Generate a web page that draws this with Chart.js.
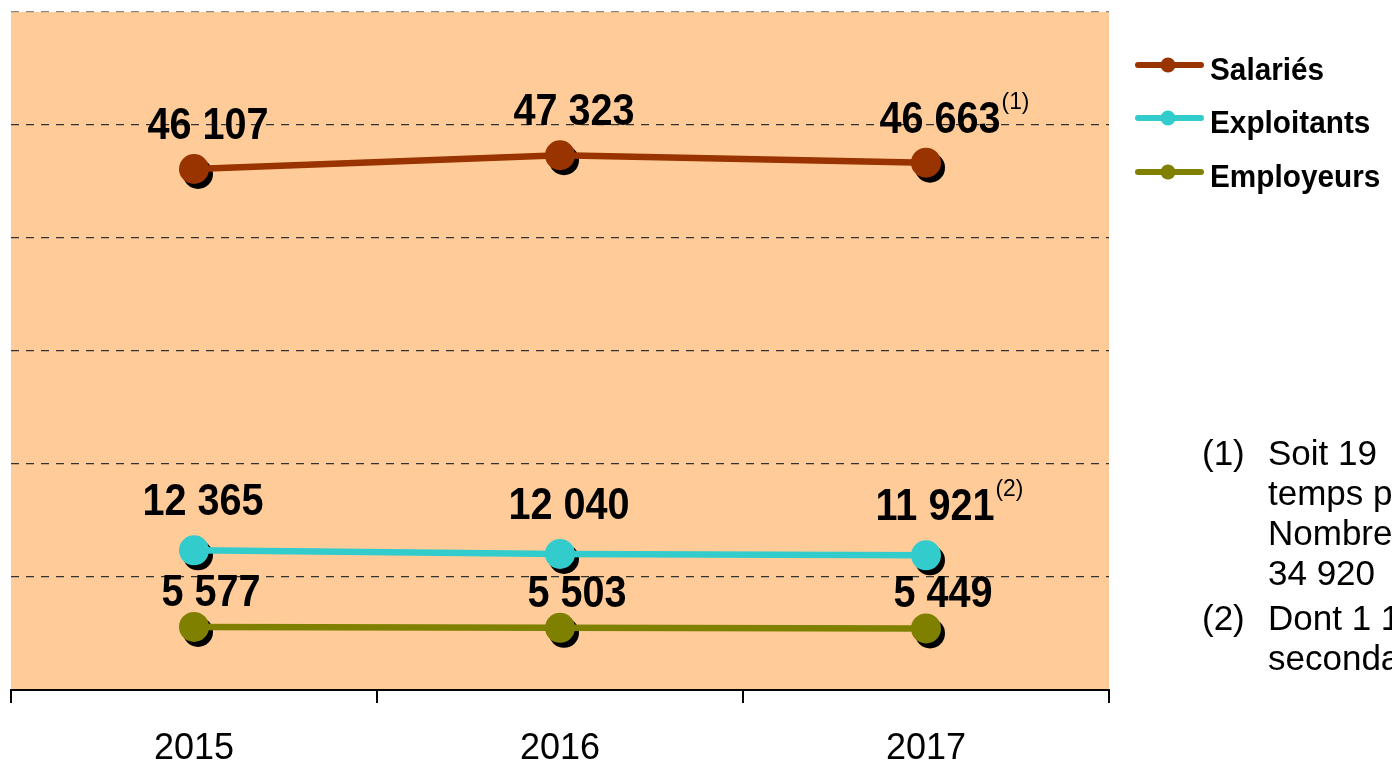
<!DOCTYPE html>
<html><head><meta charset="utf-8">
<script src="https://cdn.jsdelivr.net/npm/chart.js@4.4.1/dist/chart.umd.min.js"></script>
<style>html,body{margin:0;padding:0;background:#fff;overflow:hidden}#wrap{width:1392px;height:766px;position:relative}</style>
</head><body><div id="wrap"><canvas id="c" width="1392" height="766"></canvas></div>
<script>
const years = ['2015', '2016', '2017'];
const salaries = [46107, 47323, 46663];
const exploitants = [12365, 12040, 11921];
const employeurs = [5577, 5503, 5449];
const seriesNames = ['Salariés', 'Exploitants', 'Employeurs'];
const salariesNotes = ['', '', '(1)'];
const exploitantsNotes = ['', '', '(2)'];
const employeursNotes = ['', '', ''];
const yMin = 0, yMax = 60000, yStep = 10000;
const footnoteLines = [
  ['(1)', 'Soit 19  équivalents'],
  ['', 'temps plein.'],
  ['', 'Nombre'],
  ['', '34 920'],
  ['(2)', 'Dont 1 1'],
  ['', 'secondaire.']
];

const colors = ['#993300', '#33CCCC', '#808000'];
const labelOffsets = [{dx: 14, dy: -30}, {dx: 9, dy: -35}, {dx: 17, dy: -21}];
const FONT = '"Liberation Sans", Arial, sans-serif';

function fmt(v) { return String(v).replace(/\B(?=(\d{3})+(?!\d))/g, ' '); }

function drawScaledText(ctx, text, x, y, sx, align) {
  ctx.save();
  ctx.translate(x, y);
  ctx.scale(sx, 1);
  ctx.textAlign = align || 'left';
  ctx.fillText(text, 0, 0);
  const w = ctx.measureText(text).width * sx;
  ctx.restore();
  return w;
}

const bgPlugin = {
  id: 'bg',
  beforeDraw(chart) {
    const {ctx, chartArea: a} = chart;
    ctx.save();
    ctx.fillStyle = '#FFCC99';
    ctx.fillRect(a.left, a.top, a.right - a.left, a.bottom - a.top);
    ctx.restore();
  }
};

const shadowPlugin = {
  id: 'shadow',
  beforeDatasetDraw(chart, args) {
    const ctx = chart.ctx;
    ctx.save();
    ctx.fillStyle = '#000';
    args.meta.data.forEach(p => {
      ctx.beginPath();
      ctx.arc(p.x + 4, p.y + 5, 15, 0, Math.PI * 2);
      ctx.fill();
    });
    ctx.restore();
  }
};

const labelPlugin = {
  id: 'labels',
  afterDatasetsDraw(chart) {
    const ctx = chart.ctx;
    chart.data.datasets.forEach((ds, di) => {
      const meta = chart.getDatasetMeta(di);
      const off = labelOffsets[di];
      meta.data.forEach((p, i) => {
        const txt = fmt(ds.data[i]);
        ctx.save();
        ctx.fillStyle = '#000';
        ctx.textBaseline = 'alphabetic';
        ctx.font = 'bold 44px ' + FONT;
        const cx = p.x + off.dx, by = p.y + off.dy;
        const w = drawScaledText(ctx, txt, cx, by, 0.9, 'center');
        const note = ds.notes[i];
        if (note) {
          ctx.font = '24px ' + FONT;
          drawScaledText(ctx, note, cx + w / 2 + 1, by - 24, 0.95, 'left');
        }
        ctx.restore();
      });
    });
  }
};

const legendPlugin = {
  id: 'customLegend',
  afterDraw(chart) {
    const ctx = chart.ctx;
    const rows = [65, 118, 172];
    ctx.save();
    seriesNames.forEach((name, i) => {
      const y = rows[i];
      ctx.strokeStyle = colors[i];
      ctx.lineWidth = 6;
      ctx.lineCap = 'round';
      ctx.beginPath();
      ctx.moveTo(1138, y); ctx.lineTo(1201, y);
      ctx.stroke();
      ctx.fillStyle = colors[i];
      ctx.beginPath();
      ctx.arc(1168, y, 7.5, 0, Math.PI * 2);
      ctx.fill();
      ctx.fillStyle = '#000';
      ctx.font = 'bold 32px ' + FONT;
      ctx.textBaseline = 'alphabetic';
      drawScaledText(ctx, name, 1210, y + 15, 0.93, 'left');
    });
    ctx.font = '35px ' + FONT;
    ctx.fillStyle = '#000';
    const bases = [465, 505, 545, 585, 630, 670];
    footnoteLines.forEach((ln, i) => {
      if (ln[0]) drawScaledText(ctx, ln[0], 1202, bases[i], 1, 'left');
      drawScaledText(ctx, ln[1], 1268, bases[i], 1, 'left');
    });
    ctx.restore();
  }
};

new Chart(document.getElementById('c'), {
  type: 'line',
  data: {
    labels: years,
    datasets: [
      {label: seriesNames[0], data: salaries, notes: salariesNotes, borderColor: colors[0], backgroundColor: colors[0]},
      {label: seriesNames[1], data: exploitants, notes: exploitantsNotes, borderColor: colors[1], backgroundColor: colors[1]},
      {label: seriesNames[2], data: employeurs, notes: employeursNotes, borderColor: colors[2], backgroundColor: colors[2]}
    ].map(d => Object.assign(d, {borderWidth: 6.5, pointRadius: 15, pointHoverRadius: 15, pointBorderWidth: 0, tension: 0, fill: false}))
  },
  options: {
    responsive: false,
    animation: false,
    events: [],
    layout: {autoPadding: false, padding: {left: 11, right: 283, top: 12, bottom: 0}},
    plugins: {legend: {display: false}, tooltip: {enabled: false}},
    scales: {
      x: {
        type: 'category',
        offset: true,
        grid: {offset: true, drawOnChartArea: false, drawTicks: true, tickLength: 13, color: '#000', lineWidth: 2},
        border: {display: true, color: '#000', width: 2},
        ticks: {color: '#000', font: {family: FONT, size: 36}, padding: 24, maxRotation: 0},
        afterFit(s) { s.height = 76; }
      },
      y: {
        min: yMin, max: yMax,
        ticks: {stepSize: yStep, display: false},
        grid: {
          drawTicks: false,
          lineWidth: 1.3,
          color: c => (c.tick && c.tick.value === yMax) ? '#888888' : (c.tick && c.tick.value === yMin ? 'rgba(0,0,0,0)' : '#333333')
        },
        border: {display: false, dash: [8, 7]},
        afterFit(s) { s.width = 0; }
      }
    }
  },
  plugins: [bgPlugin, shadowPlugin, labelPlugin, legendPlugin]
});
</script>
</body></html>
